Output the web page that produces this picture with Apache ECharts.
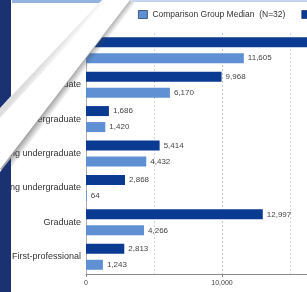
<!DOCTYPE html>
<html>
<head>
<meta charset="utf-8">
<script src="https://cdn.jsdelivr.net/npm/echarts@6/dist/echarts.min.js"></script>
<style>
  html, body { margin: 0; padding: 0; background: #fff; }
  #chart { width: 307px; height: 292px; }
</style>
</head>
<body>
<div id="chart"></div>
<script>
  // enrollment by student level, institution vs comparison group median
  const categories = [
    'Total',
    'Undergraduate',
    'First-time undergraduate',
    'Continuing undergraduate',
    'Non-degree-seeking undergraduate',
    'Graduate',
    'First-professional'
  ]
  const institutionValues = [25778, 9968, 1686, 5414, 2868, 12997, 2813]
  const comparisonValues = [11605, 6170, 1420, 4432, 64, 4266, 1243]
  const seriesNames = ['Your institution', 'Comparison Group Median  (N=32)']

  const darkBlue = '#0b3a93'
  const lightBlue = '#5e90d3'
  const navy = '#1b3272'

  const fmt = function (v) {
    return Number(v).toLocaleString('en-US')
  }

  const chart = echarts.init(document.getElementById('chart'))

  const labelStyle = {
    show: true,
    position: 'right',
    distance: 4,
    fontSize: 8,
    color: '#444',
    fontFamily: 'Liberation Sans',
    formatter: function (p) { return fmt(p.value) }
  }

  const option = {
    animation: false,
    textStyle: { fontFamily: 'Liberation Sans' },
    legend: {
      left: 138,
      top: 10,
      width: 400,
      padding: 0,
      itemWidth: 9,
      itemHeight: 8,
      itemGap: 16,
      icon: 'rect',
      itemStyle: { borderColor: '#2a3f6e', borderWidth: 0.8 },
      data: [seriesNames[1], seriesNames[0]],
      textStyle: { fontSize: 8.5, color: '#333' }
    },
    grid: {
      left: 86,
      top: 33,
      width: 408,
      bottom: 18,
      containLabel: false,
      outerBoundsMode: 'none'
    },
    xAxis: {
      type: 'value',
      min: 0,
      max: 30000,
      interval: 10000,
      axisLine: { show: true, lineStyle: { color: '#8a8a8a', width: 1 } },
      axisTick: { show: true, length: 3, lineStyle: { color: '#8a8a8a' } },
      axisLabel: {
        fontSize: 7,
        color: '#444',
        margin: 6,
        formatter: function (v) { return fmt(v) }
      },
      splitLine: { show: true, lineStyle: { color: '#c4c4c4', type: [2, 2] } },
      minorTick: { show: false, splitNumber: 2 },
      minorSplitLine: { show: true, lineStyle: { color: '#d4d4d4', type: [2, 2] } }
    },
    yAxis: {
      type: 'category',
      inverse: true,
      data: categories,
      axisLine: { show: true, lineStyle: { color: '#b0b0b0' } },
      axisTick: { show: false },
      axisLabel: { fontSize: 9, color: '#333', margin: 5 }
    },
    series: [
      {
        name: seriesNames[0],
        type: 'bar',
        data: institutionValues,
        barWidth: 10,
        barGap: '60%',
        itemStyle: { color: darkBlue },
        label: labelStyle
      },
      {
        name: seriesNames[1],
        type: 'bar',
        data: comparisonValues,
        barWidth: 10,
        itemStyle: { color: lightBlue },
        label: labelStyle
      }
    ],
    // folded page corner from the photo
    graphic: [
      {
        type: 'polygon', z: 100, silent: true,
        shape: { points: [[0, 0], [131, 0], [0, 170]] },
        style: { fill: '#fff' }
      },
      {
        type: 'polygon', z: 101, silent: true,
        shape: { points: [[130, 0], [0, 169], [7, 175], [138, 5]] },
        style: {
          fill: {
            type: 'linear', global: true,
            x: 65, y: 84.5, x2: 71, y2: 89,
            colorStops: [
              { offset: 0, color: 'rgba(60,60,60,0.45)' },
              { offset: 1, color: 'rgba(60,60,60,0)' }
            ]
          }
        }
      },
      {
        type: 'polygon', z: 101, silent: true,
        shape: { points: [[102, 0], [0, 108], [0, 118], [110, 0]] },
        style: {
          fill: {
            type: 'linear', global: true,
            x: 51, y: 54, x2: 57, y2: 59,
            colorStops: [
              { offset: 0, color: 'rgba(120,120,120,0.25)' },
              { offset: 1, color: 'rgba(120,120,120,0)' }
            ]
          }
        }
      },
      {
        type: 'polygon', z: 102, silent: true,
        shape: { points: [[0, 0], [11, 0], [11, 96], [0, 108]] },
        style: { fill: navy }
      },
      {
        type: 'polygon', z: 102, silent: true,
        shape: { points: [[12, 0], [102, 0], [99, 3], [12, 3]] },
        style: { fill: '#93b3e2' }
      },
      {
        type: 'polygon', z: 102, silent: true,
        shape: { points: [[132, 0], [307, 0], [307, 2], [130, 2]] },
        style: { fill: '#c5d5ee' }
      },
      {
        type: 'polygon', z: 102, silent: true,
        shape: { points: [[0, 172], [11, 158], [11, 292], [0, 292]] },
        style: { fill: navy }
      }
    ]
  }

  chart.setOption(option)
</script>
</body>
</html>
